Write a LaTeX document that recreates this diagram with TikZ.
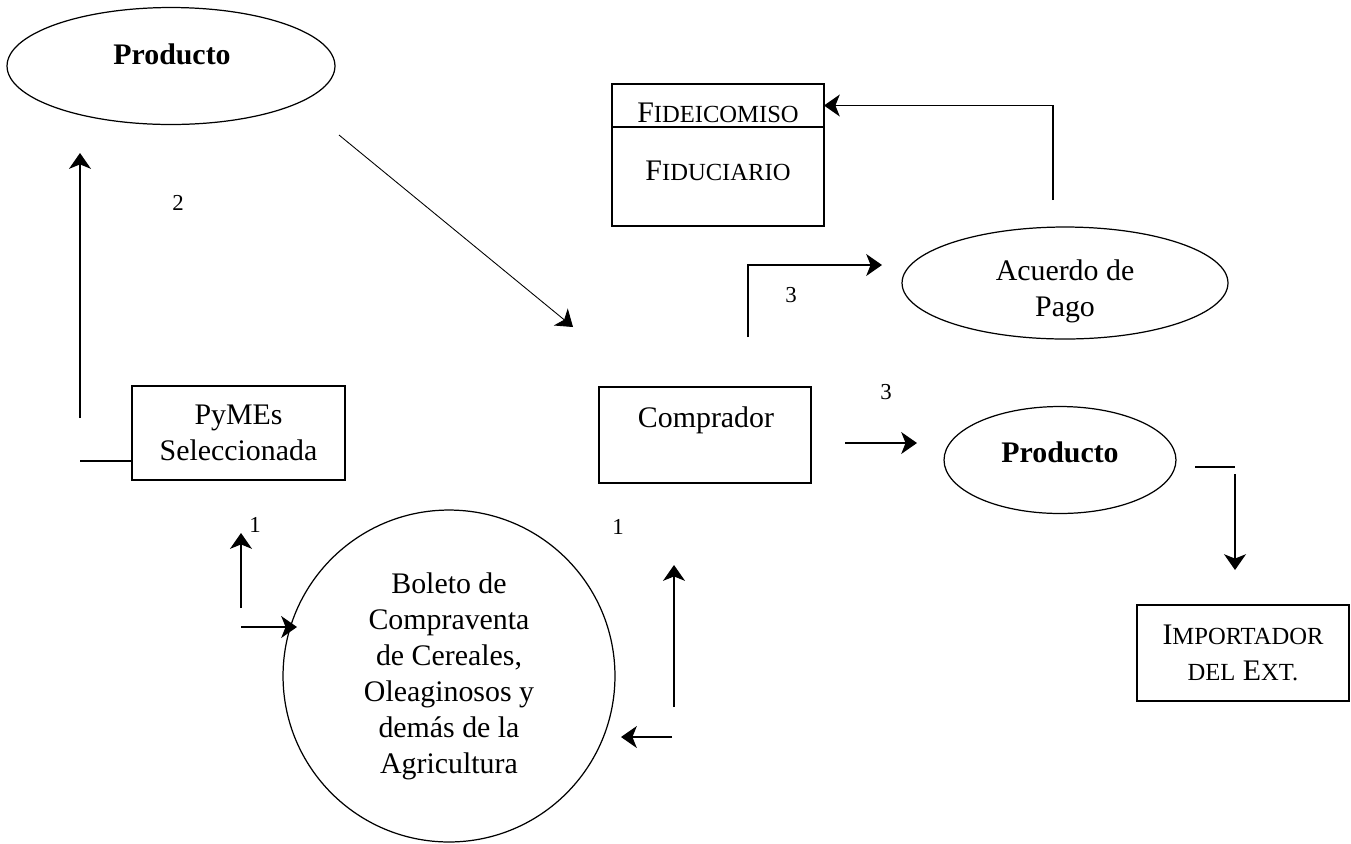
\documentclass[tikz,border=0pt]{standalone}
\usepackage{fontspec}
\setmainfont{Liberation Serif}
\usetikzlibrary{shapes.geometric,arrows.meta}
\newcommand{\versal}[1]{{\fontsize{14}{17}\selectfont #1}}
\begin{document}
\begin{tikzpicture}[x=0.02cm,y=-0.02cm,line width=0.7pt,
  every node/.style={font=\fontsize{17}{20.5}\selectfont},
  caja/.style={draw,rectangle,inner sep=0pt,outer sep=0pt,align=center},
  elipse/.style={draw,ellipse,inner sep=0pt,outer sep=0pt,align=center},
  flecha/.style={-{Stealth[length=9pt,width=12.5pt,inset=2.5pt]}},
  num/.style={font=\fontsize{13}{15}\selectfont}]
\useasboundingbox (0,0) rectangle (1351,843);

\node[elipse,minimum width=6.56cm,minimum height=2.34cm] (prod1) at (171,66) {};
\node[font=\fontsize{17}{20.5}\selectfont\bfseries] (prod1t) at (172,54) {Producto};
\node[caja,minimum width=4.26cm,minimum height=1.88cm] (pymes) at (238.5,433) {PyMEs\\Seleccionada};
\node[caja,minimum width=4.24cm,minimum height=0.86cm,text height=19pt] (fid) at (718,105.5) {F\versal{IDEICOMISO}};
\node[caja,minimum width=4.24cm,minimum height=1.98cm,text depth=7pt] (fidu) at (718,176.5) {F\versal{IDUCIARIO}};
\node[elipse,minimum width=6.52cm,minimum height=2.24cm] (acuerdo) at (1065,283) {};
\node[align=center] (acuerdot) at (1065,291) {Acuerdo de\\Pago};
\node[caja,minimum width=4.24cm,minimum height=1.92cm] (comprador) at (705,435) {};
\node (compradort) at (706,420) {Comprador};
\node[elipse,minimum width=4.64cm,minimum height=2.14cm] (prod2) at (1060,460) {};
\node[font=\fontsize{17}{20.5}\selectfont\bfseries] (prod2t) at (1060,452) {Producto};
\node[caja,minimum width=4.24cm,minimum height=1.92cm] (importador) at (1243,653) {I\versal{MPORTADOR}\\\versal{DEL} E\versal{XT.}};
\node[draw,circle,inner sep=0pt,minimum size=6.64cm,align=center] (boleto) at (449,676)
  {Boleto de\\Compraventa\\de Cereales,\\Oleaginosos y\\demás de la\\Agricultura};

\node[num] (n2) at (178,203) {2};
\node[num] (n3a) at (791,295) {3};
\node[num] (n3b) at (886,392) {3};
\node[num] (n1a) at (255,525) {1};
\node[num] (n1b) at (618,527) {1};

\coordinate (a) at (80,418);
\coordinate (b) at (80,153);
\coordinate (c) at (80,461);
\coordinate (d) at (339,135);
\coordinate (e) at (573,327);
\coordinate (f) at (748,337);
\coordinate (g) at (882,265);
\coordinate (h) at (1053,200);
\coordinate (i) at (845,443);
\coordinate (j) at (917,443);
\coordinate (k) at (1195,467);
\coordinate (l) at (1235,467);
\coordinate (m) at (1235,474);
\coordinate (n) at (1235,570);
\coordinate (o) at (241,608);
\coordinate (p) at (241,533);
\coordinate (q) at (241,627);
\coordinate (r) at (297,627);
\coordinate (s) at (674,707);
\coordinate (t) at (674,565);
\coordinate (u) at (672,737);
\coordinate (v) at (621,737);

\draw[flecha] (a) -- (b);
\draw (c) -- (c -| pymes.west);
\draw[flecha,line width=0.5pt] (d) -- (e);
\draw[flecha] (f) |- (g);
\draw[flecha] (h) |- (fid.east);
\draw[flecha] (i) -- (j);
\draw (k) -- (l);
\draw[flecha] (m) -- (n);
\draw[flecha] (o) -- (p);
\draw[flecha] (q) -- (r);
\draw[flecha] (s) -- (t);
\draw[flecha] (u) -- (v);
\end{tikzpicture}
\end{document}
